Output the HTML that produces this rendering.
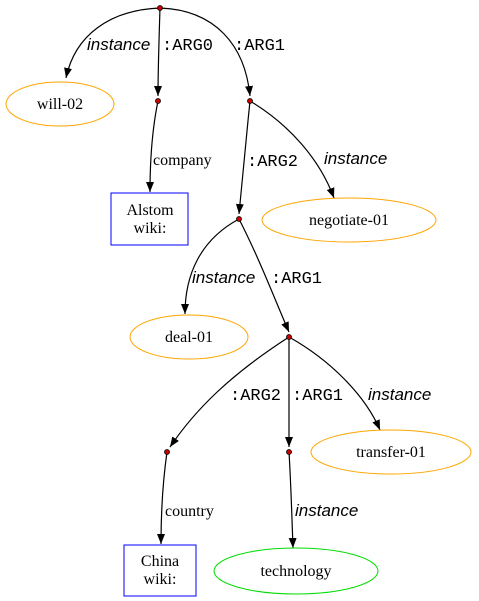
<!DOCTYPE html>
<html><head><meta charset="utf-8"><style>
html,body{margin:0;padding:0;background:#fff;}
svg{display:block;}
.s{font-family:"Liberation Serif",serif;font-size:16px;}
.i{font-family:"Liberation Sans",sans-serif;font-size:17px;font-style:italic;}
.m{font-family:"Liberation Mono",monospace;font-size:17px;}
</style></head><body>
<svg width="479" height="601" viewBox="0 0 479 601" xmlns="http://www.w3.org/2000/svg">
<defs><marker id="a" markerWidth="10" markerHeight="8" refX="10" refY="4" orient="auto" markerUnits="userSpaceOnUse"><path d="M0,0 L10,4 L0,8 Z" fill="#000"/></marker></defs>
<g fill="none" stroke="#000" stroke-width="1.2" marker-end="url(#a)">
<path d="M160,8 C110,10 75,35 66,78"/>
<path d="M160,8 C159,40 158,70 158,96"/>
<path d="M160,8 C215,10 245,45 250,96"/>
<path d="M158,101 C152,130 150,165 150,192"/>
<path d="M250,101 C246,140 242,180 239,214"/>
<path d="M250,101 C290,125 320,160 334,198"/>
<path d="M239,219 C200,240 185,275 185,314"/>
<path d="M239,219 C260,260 275,300 289,332"/>
<path d="M289,337 C230,375 195,410 170,447"/>
<path d="M289,337 L289,447"/>
<path d="M289,337 C330,360 365,395 380,430"/>
<path d="M167,452 C163,480 161,515 161,544"/>
<path d="M289,452 C291,485 292,520 293,548"/>
</g>
<g fill="#c00" stroke="#000" stroke-width="0.8">
<circle cx="160" cy="8" r="2.5"/><circle cx="158" cy="101" r="2.5"/><circle cx="250" cy="101" r="2.5"/>
<circle cx="239" cy="219" r="2.5"/><circle cx="289" cy="337" r="2.5"/><circle cx="167" cy="452" r="2.5"/><circle cx="289" cy="452" r="2.5"/>
</g>
<g fill="none" stroke="orange" stroke-width="1">
<ellipse cx="60" cy="104" rx="54" ry="22"/>
<ellipse cx="349" cy="220" rx="87" ry="22"/>
<ellipse cx="189" cy="337" rx="59" ry="22"/>
<ellipse cx="391" cy="452" rx="80" ry="22"/>
</g>
<ellipse cx="296" cy="571" rx="82" ry="23" fill="none" stroke="#0d0" stroke-width="1"/>
<rect x="111" y="193" width="77" height="52" fill="none" stroke="blue"/>
<rect x="124" y="545" width="72" height="51" fill="none" stroke="blue"/>
<g class="s" text-anchor="middle">
<text x="60" y="109">will-02</text>
<text x="349" y="225">negotiate-01</text>
<text x="189" y="342">deal-01</text>
<text x="391" y="457">transfer-01</text>
<text x="296" y="576">technology</text>
<text x="150" y="215">Alstom</text><text x="150" y="233">wiki:</text>
<text x="160" y="566">China</text><text x="160" y="584">wiki:</text>
</g>
<g class="s">
<text x="153" y="165">company</text>
<text x="165" y="516">country</text>
</g>
<g class="i">
<text x="87" y="50">instance</text>
<text x="324" y="164">instance</text>
<text x="192" y="283">instance</text>
<text x="368" y="400">instance</text>
<text x="295" y="516">instance</text>
</g>
<g class="m">
<text x="162" y="50">:ARG0</text>
<text x="234" y="50">:ARG1</text>
<text x="247" y="166">:ARG2</text>
<text x="271" y="283">:ARG1</text>
<text x="230" y="400">:ARG2</text>
<text x="292" y="400">:ARG1</text>
</g>
</svg>
</body></html>
